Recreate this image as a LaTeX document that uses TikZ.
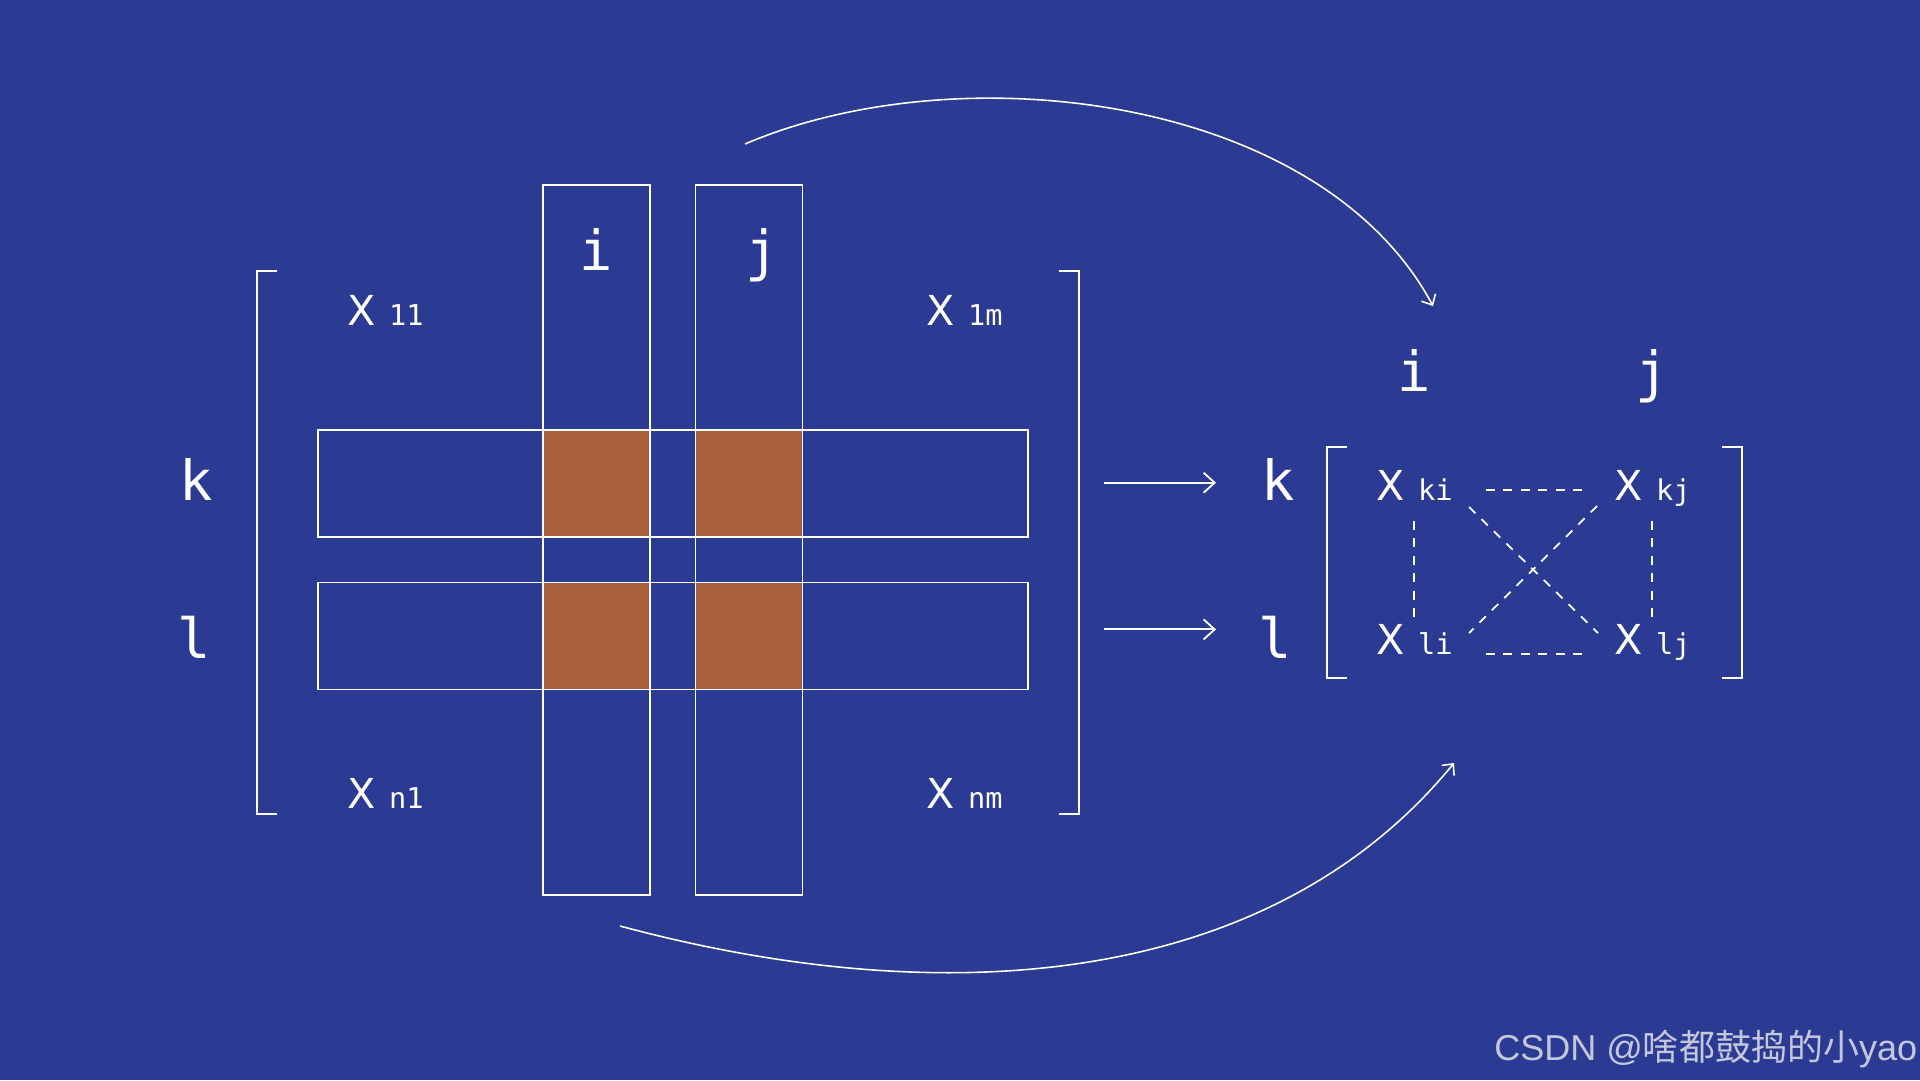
\documentclass[tikz,border=0pt]{standalone}
\usepackage{fontspec}
\setmainfont{DejaVu Sans Mono}
\newfontfamily\xfont{DejaVu Sans}
\newfontfamily\wmfont{Liberation Sans}
\newfontfamily\cjkfont{Noto Sans CJK SC}
\usetikzlibrary{arrows.meta}
\definecolor{bg}{RGB}{43,58,146}
\definecolor{cellc}{RGB}{170,95,60}
\definecolor{wmc}{RGB}{196,200,220}
\newcommand{\xel}[1]{{\xfont X}\hspace{0.27cm}{\fontsize{16.3pt}{19pt}\selectfont #1}}
\begin{document}
\begin{tikzpicture}[x=0.02cm,y=-0.02cm,
  line/.style={white, line width=1.05pt},
  stripbox/.style={draw=white, line width=1.05pt, inner sep=0pt, outer sep=0pt},
  vstrip/.style={stripbox, minimum width=2.14cm, minimum height=14.2cm},
  hstrip/.style={stripbox, minimum width=14.2cm, minimum height=2.14cm},
  cellbox/.style={fill=cellc, inner sep=0pt, outer sep=0pt, minimum width=2.14cm, minimum height=2.14cm},
  big/.style={text=white, inner sep=0pt, anchor=base, font=\fontsize{31.5pt}{36pt}\selectfont},
  elem/.style={text=white, inner sep=0pt, anchor=base west, font=\fontsize{23.5pt}{28pt}\selectfont},
  dsh/.style={white, line width=1pt, dash pattern=on 5.1pt off 4.8pt},
  arr/.style={white, line width=1.05pt, -{Straight Barb[length=2.2mm,width=4mm]}},
  carr/.style={white, line width=0.9pt, -{Straight Barb[length=1.7mm,width=3.2mm]}},
]
\fill[bg] (0,0) rectangle (1920,1080);
\useasboundingbox (0,0) rectangle (1920,1080);

% orange cells
\node[cellbox] (cki) at (596.5,483.5) {};
\node[cellbox] (ckj) at (749,483.5) {};
\node[cellbox] (cli) at (596.5,636) {};
\node[cellbox] (clj) at (749,636) {};

% strips
\node[vstrip] (colI) at (596.5,540) {};
\node[vstrip] (colJ) at (749,540) {};
\node[hstrip] (rowK) at (673,483.5) {};
\node[hstrip] (rowL) at (673,636) {};

% left matrix brackets
\draw[line] (277,271) -- (257,271) -- (257,814) -- (277,814);
\draw[line] (1059,271) -- (1079,271) -- (1079,814) -- (1059,814);

% labels
\node[big] (lI) at (596.5,270) {i};
\node[big] (lJ) at (762,270) {j};
\node[big] (lK) at (196.5,500) {k};
\node[big] (lL) at (194,658) {l};

\node[elem] (x11) at (347,325.7) {\xel{11}};
\node[elem] (x1m) at (926,325.7) {\xel{1m}};
\node[elem] (xn1) at (347,808.3) {\xel{n1}};
\node[elem] (xnm) at (926,808.3) {\xel{nm}};

% straight arrows
\coordinate (ka) at (1104,482.7);
\coordinate (kb) at (1216,482.7);
\coordinate (la) at (1104,629.4);
\coordinate (lb) at (1216,629.4);
\draw[arr] (ka) -- (kb);
\draw[arr] (la) -- (lb);

% right labels
\node[big] (rK) at (1278,500) {k};
\node[big] (rL) at (1275,658) {l};
\node[big] (rI) at (1414,391) {i};
\node[big] (rJ) at (1652,391) {j};

% right matrix brackets
\draw[line] (1347,447) -- (1327,447) -- (1327,678) -- (1347,678);
\draw[line] (1722,447) -- (1742,447) -- (1742,678) -- (1722,678);

\node[elem] (xki) at (1376,500) {\xel{ki}};
\node[elem] (xkj) at (1614,500) {\xel{kj}};
\node[elem] (xli) at (1376,654.3) {\xel{li}};
\node[elem] (xlj) at (1614,654.3) {\xel{lj}};

% dashed connections
\draw[dsh] (1486,489.7) -- (1583,489.7);
\draw[dsh] (1486,654.3) -- (1583,654.3);
\draw[dsh] (1414,521) -- (1414,618);
\draw[dsh] (1652,521) -- (1652,618);
\draw[dsh] (1469,507) -- (1598,633);
\draw[dsh] (1597,506) -- (1469,633);

% curved arrows
\coordinate (ts) at (745,144);
\coordinate (te) at (1433,306);
\coordinate (bs) at (620,926);
\coordinate (be) at (1454,763);
\draw[carr] (ts) .. controls (960,52) and (1320,95) .. (te);
\draw[carr] (bs) .. controls (955,1016) and (1274,983) .. (be);

% watermark
\node[anchor=base west, inner sep=0pt, text=wmc, font=\wmfont\fontsize{20.5pt}{24pt}\selectfont] (wm) at (1494,1060) {CSDN @{\cjkfont 啥都鼓捣的小}yao};
\end{tikzpicture}
\end{document}
